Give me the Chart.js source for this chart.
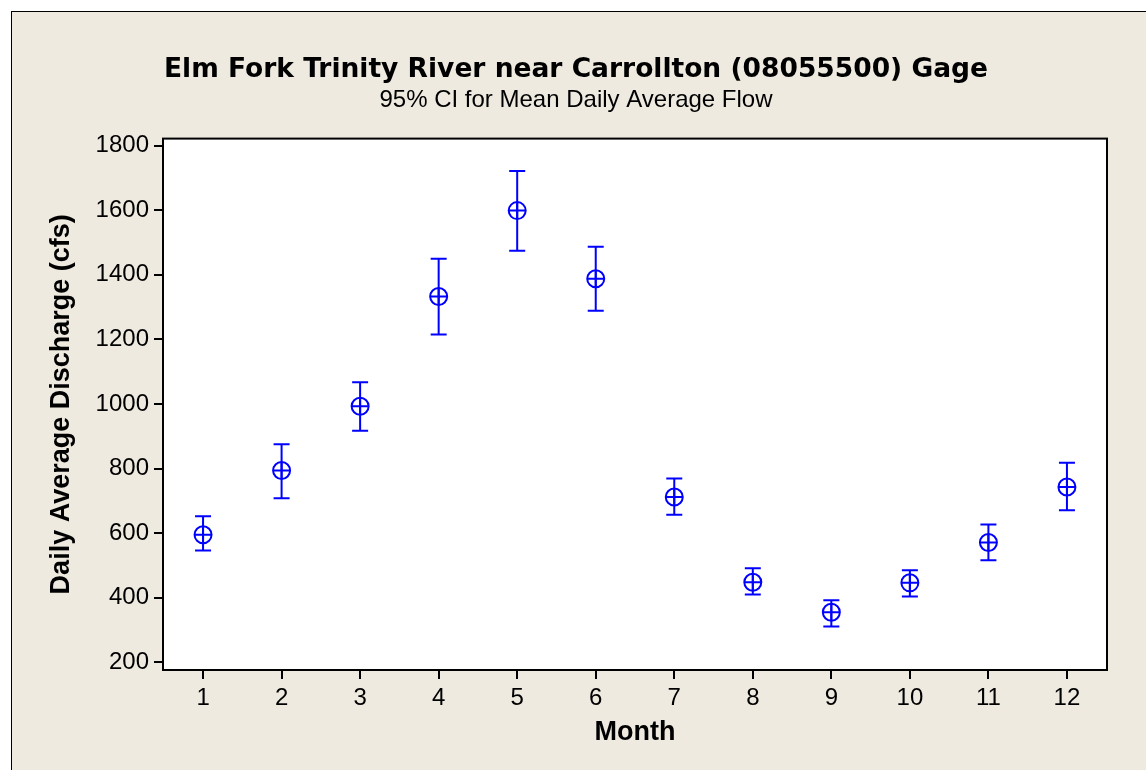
<!DOCTYPE html>
<html>
<head>
<meta charset="utf-8">
<title>Elm Fork Trinity River near Carrollton (08055500) Gage</title>
<script src="https://cdn.jsdelivr.net/npm/chart.js@4/dist/chart.umd.min.js"></script>
<style>
    html, body { margin: 0; padding: 0; background: #ffffff; }
    #frame {
        position: absolute;
        left: 11px;
        top: 11px;
        width: 1135px;
        height: 759px;
        border-left: 1px solid #000;
        border-top: 1px solid #000;
        background: #eeeae0;
    }
    canvas { display: block; }
</style>
</head>
<body>
<div id="frame"><canvas id="ciChart" width="1134" height="758"></canvas></div>
<script>
// Monthly 95% CI for mean daily average flow (cfs)
const months = [1, 2, 3, 4, 5, 6, 7, 8, 9, 10, 11, 12];
const meanFlow = [595, 794, 993, 1333, 1599, 1388, 712, 448, 355, 446, 571, 743];
const upperCI = [652, 875, 1067, 1450, 1722, 1487, 769, 491, 392, 485, 627, 818];
const lowerCI = [546, 708, 917, 1215, 1475, 1289, 657, 410, 311, 404, 516, 671];
const yTicks = [200, 400, 600, 800, 1000, 1200, 1400, 1600, 1800];

const BLUE = '#0000ff';
const FONT = "'Liberation Sans', Arial, sans-serif";
const TITLE_FONT = "'DejaVu Sans', Verdana, sans-serif";

// white plot area + black frame around it
const plotBox = {
    id: 'plotBox',
    beforeDraw(chart) {
        const a = chart.chartArea;
        const ctx = chart.ctx;
        ctx.save();
        ctx.fillStyle = '#ffffff';
        ctx.fillRect(a.left, a.top, a.right - a.left, a.bottom - a.top);
        ctx.restore();
    },
    afterDraw(chart) {
        const a = chart.chartArea;
        const ctx = chart.ctx;
        ctx.save();
        ctx.strokeStyle = '#000';
        ctx.lineWidth = 2;
        ctx.strokeRect(a.left, a.top, a.right - a.left, a.bottom - a.top);
        ctx.restore();
    }
};

// interval bars drawn from the CI arrays through the chart scales
const errorBars = {
    id: 'errorBars',
    afterDatasetsDraw(chart) {
        const xs = chart.scales.x;
        const ys = chart.scales.y;
        const ctx = chart.ctx;
        const cap = 8;
        ctx.save();
        ctx.strokeStyle = BLUE;
        ctx.lineWidth = 2;
        months.forEach((m, i) => {
            const x = xs.getPixelForValue(m);
            const yTop = ys.getPixelForValue(upperCI[i]);
            const yBot = ys.getPixelForValue(lowerCI[i]);
            ctx.beginPath();
            ctx.moveTo(x, yTop);
            ctx.lineTo(x, yBot);
            ctx.moveTo(x - cap, yTop);
            ctx.lineTo(x + cap, yTop);
            ctx.moveTo(x - cap, yBot);
            ctx.lineTo(x + cap, yBot);
            ctx.stroke();
        });
        ctx.restore();
    }
};

const points = months.map((m, i) => ({ x: m, y: meanFlow[i] }));

new Chart(document.getElementById('ciChart'), {
    type: 'scatter',
    data: {
        datasets: [
            {
                data: points,
                pointStyle: 'circle',
                pointRadius: 8.5,
                borderColor: BLUE,
                backgroundColor: 'rgba(0,0,0,0)',
                borderWidth: 2
            },
            {
                data: points,
                pointStyle: 'cross',
                pointRadius: 8.5,
                borderColor: BLUE,
                borderWidth: 2
            }
        ]
    },
    options: {
        responsive: false,
        animation: false,
        devicePixelRatio: 1,
        layout: { padding: { left: 33, right: 39, top: 0, bottom: 0 } },
        plugins: {
            legend: { display: false },
            tooltip: { enabled: false },
            title: {
                display: true,
                text: 'Elm Fork Trinity River near Carrollton (08055500) Gage',
                color: '#000',
                font: { family: TITLE_FONT, size: 26.5, weight: 'bold' },
                padding: { top: 42, bottom: 0 }
            },
            subtitle: {
                display: true,
                text: '95% CI for Mean Daily Average Flow',
                color: '#000',
                font: { family: FONT, size: 24, weight: 'normal' },
                padding: { top: 0, bottom: 24 }
            }
        },
        scales: {
            x: {
                type: 'linear',
                min: 0.49,
                max: 12.51,
                afterBuildTicks: s => { s.ticks = months.map(v => ({ value: v })); },
                afterFit: s => { s.height = 100; },
                border: { display: true, color: '#000', width: 2 },
                grid: { display: true, drawOnChartArea: false, drawTicks: true, tickLength: 9, color: '#000', lineWidth: 2 },
                ticks: { color: '#000', font: { family: FONT, size: 24 }, padding: 5, maxRotation: 0, autoSkip: false },
                title: {
                    display: true,
                    text: 'Month',
                    color: '#000',
                    font: { family: FONT, size: 27, weight: 'bold' },
                    padding: { top: 0, bottom: 21 }
                }
            },
            y: {
                min: 176,
                max: 1822,
                afterBuildTicks: s => { s.ticks = yTicks.map(v => ({ value: v })); },
                afterFit: s => { s.width = 118; },
                border: { display: true, color: '#000', width: 2 },
                grid: { display: true, drawOnChartArea: false, drawTicks: true, tickLength: 9, color: '#000', lineWidth: 2 },
                ticks: { color: '#000', font: { family: FONT, size: 24 }, padding: 5, callback: v => String(v) },
                title: {
                    display: true,
                    text: 'Daily Average Discharge (cfs)',
                    color: '#000',
                    font: { family: FONT, size: 27, weight: 'bold' },
                    padding: { top: 0, bottom: 0 }
                }
            }
        }
    },
    plugins: [plotBox, errorBars]
});
</script>
</body>
</html>
